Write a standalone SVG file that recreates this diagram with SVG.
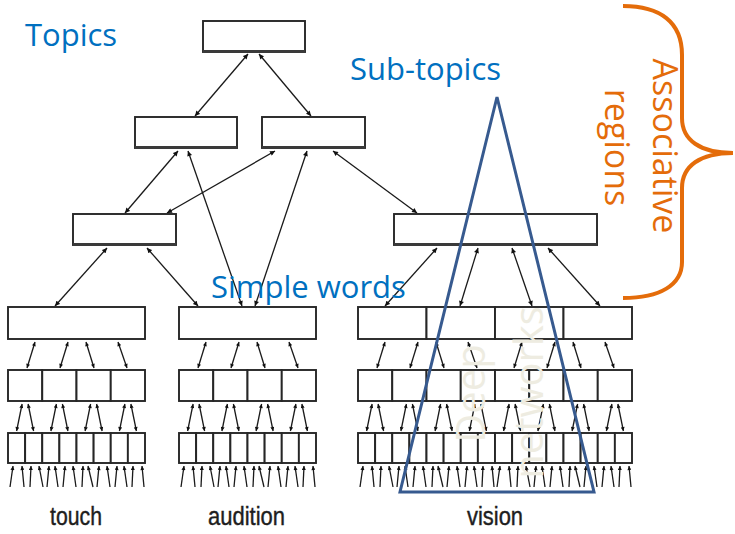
<svg xmlns="http://www.w3.org/2000/svg" xmlns:xlink="http://www.w3.org/1999/xlink" width="735" height="534" viewBox="0 0 735 534">
<style>
.box{fill:#fff;stroke:#262626;stroke-width:1.9}
.shadow{stroke:#3a3a3a;stroke-width:3}
.ln{stroke:#1a1a1a;stroke-width:1.3;fill:none}
.big{marker-start:url(#ah);marker-end:url(#ah)}
.sm{marker-start:url(#as);marker-end:url(#as)}
.up{marker-end:url(#as)}
.blue{font-family:"Open Sans","Noto Sans",sans-serif;font-size:31px;fill:#0070C0}
.orange{font-family:"Open Sans","Noto Sans",sans-serif;font-size:34px;fill:#E46C0A}
.cream{font-family:"Open Sans","Noto Sans",sans-serif;font-size:40px;fill:#EEECE1}
.lab{font-family:"Liberation Sans",Arial,sans-serif;font-size:25px;fill:#1e1e1e;stroke:#1e1e1e;stroke-width:0.4}
</style>
<defs>
<marker id="ah" viewBox="0 0 10 10" refX="10" refY="5" markerWidth="6" markerHeight="5" markerUnits="userSpaceOnUse" orient="auto-start-reverse"><path d="M0,0 L10,5 L0,10 z" fill="#111"/></marker>
<marker id="as" viewBox="0 0 10 10" refX="10" refY="5" markerWidth="5" markerHeight="4" markerUnits="userSpaceOnUse" orient="auto-start-reverse"><path d="M0,0 L10,5 L0,10 z" fill="#111"/></marker>
<g id="col">
<rect class="box" x="0" y="370" width="34.25" height="31"/>
<rect class="box" x="34.25" y="370" width="34.25" height="31"/>
<rect class="box" x="68.5" y="370" width="34.25" height="31"/>
<rect class="box" x="102.75" y="370" width="34.25" height="31"/>
<rect class="box" x="0" y="433" width="17.125" height="30"/>
<rect class="box" x="17.125" y="433" width="17.125" height="30"/>
<rect class="box" x="34.25" y="433" width="17.125" height="30"/>
<rect class="box" x="51.375" y="433" width="17.125" height="30"/>
<rect class="box" x="68.5" y="433" width="17.125" height="30"/>
<rect class="box" x="85.625" y="433" width="17.125" height="30"/>
<rect class="box" x="102.75" y="433" width="17.125" height="30"/>
<rect class="box" x="119.875" y="433" width="17.125" height="30"/>
<g class="ln">
<line class="sm" x1="27" y1="342" x2="19" y2="368"/>
<line class="sm" x1="60" y1="342" x2="52" y2="368"/>
<line class="sm" x1="78" y1="342" x2="86" y2="368"/>
<line class="sm" x1="110" y1="342" x2="119" y2="368"/>
<line class="sm" x1="14.1" y1="404" x2="8.6" y2="431"/>
<line class="sm" x1="20.1" y1="404" x2="25.6" y2="431"/>
<line class="sm" x1="48.4" y1="404" x2="42.9" y2="431"/>
<line class="sm" x1="54.4" y1="404" x2="59.9" y2="431"/>
<line class="sm" x1="82.6" y1="404" x2="77.1" y2="431"/>
<line class="sm" x1="88.6" y1="404" x2="94.1" y2="431"/>
<line class="sm" x1="116.9" y1="404" x2="111.4" y2="431"/>
<line class="sm" x1="122.9" y1="404" x2="128.4" y2="431"/>
<line class="up" x1="2" y1="487" x2="5" y2="466"/>
<line class="up" x1="16" y1="487" x2="14" y2="466"/>
<line class="up" x1="22" y1="487" x2="23" y2="466"/>
<line class="up" x1="35" y1="487" x2="31" y2="466"/>
<line class="up" x1="39" y1="487" x2="41" y2="466"/>
<line class="up" x1="50" y1="487" x2="47" y2="466"/>
<line class="up" x1="55" y1="487" x2="57" y2="466"/>
<line class="up" x1="68" y1="487" x2="65" y2="466"/>
<line class="up" x1="74" y1="487" x2="75" y2="466"/>
<line class="up" x1="85" y1="487" x2="80" y2="466"/>
<line class="up" x1="89" y1="487" x2="91" y2="466"/>
<line class="up" x1="102" y1="487" x2="99" y2="466"/>
<line class="up" x1="107" y1="487" x2="109" y2="466"/>
<line class="up" x1="119" y1="487" x2="116" y2="466"/>
<line class="up" x1="124" y1="487" x2="125" y2="466"/>
<line class="up" x1="136" y1="487" x2="134" y2="466"/>
</g>
</g>
</defs>

<g id="connectors" class="ln">
<line class="big" x1="248" y1="54" x2="195" y2="116"/>
<line class="big" x1="259" y1="54" x2="311" y2="116"/>
<line class="big" x1="178" y1="151" x2="125" y2="213"/>
<line class="big" x1="188" y1="151" x2="242" y2="306"/>
<line class="big" x1="275" y1="151" x2="167" y2="213"/>
<line class="big" x1="307" y1="151" x2="255" y2="306"/>
<line class="big" x1="333" y1="151" x2="417" y2="213"/>
<line class="big" x1="107" y1="248" x2="55" y2="306"/>
<line class="big" x1="147" y1="248" x2="198" y2="306"/>
<line class="big" x1="437" y1="248" x2="385" y2="306"/>
<line class="big" x1="478" y1="248" x2="460" y2="306"/>
<line class="big" x1="512" y1="248" x2="532" y2="306"/>
<line class="big" x1="548" y1="248" x2="600" y2="306"/>
</g>

<g id="topic">
<rect class="box" x="203" y="21" width="102" height="31"/>
<line class="shadow" x1="203" y1="51.5" x2="305" y2="51.5"/>
</g>
<g id="subtopic-left">
<rect class="box" x="135" y="117" width="102" height="31"/>
<line class="shadow" x1="135" y1="147.5" x2="237" y2="147.5"/>
</g>
<g id="subtopic-right">
<rect class="box" x="262" y="117" width="103" height="31"/>
<line class="shadow" x1="262" y1="147.5" x2="365" y2="147.5"/>
</g>
<g id="word-left">
<rect class="box" x="73" y="214" width="103" height="31"/>
<line class="shadow" x1="73" y1="244.5" x2="176" y2="244.5"/>
</g>
<g id="word-right">
<rect class="box" x="394" y="214" width="203" height="31"/>
<line class="shadow" x1="394" y1="244.5" x2="597" y2="244.5"/>
</g>

<g id="touch">
<rect class="box" x="8" y="307" width="137" height="32"/>
<use xlink:href="#col" href="#col" x="8" y="0"/>
<text class="lab" x="50" y="525" textLength="52" lengthAdjust="spacingAndGlyphs">touch</text>
</g>
<g id="audition">
<rect class="box" x="179" y="307" width="137" height="32"/>
<use xlink:href="#col" href="#col" x="179" y="0"/>
<text class="lab" x="208" y="525" textLength="77" lengthAdjust="spacingAndGlyphs">audition</text>
</g>
<g id="vision">
<rect class="box" x="358" y="307" width="68.5" height="32"/>
<rect class="box" x="426.5" y="307" width="68.5" height="32"/>
<rect class="box" x="495" y="307" width="68.5" height="32"/>
<rect class="box" x="563.5" y="307" width="68.5" height="32"/>
<use xlink:href="#col" href="#col" x="358" y="0"/>
<use xlink:href="#col" href="#col" x="495" y="0"/>
<text class="lab" x="467" y="525" textLength="56" lengthAdjust="spacingAndGlyphs">vision</text>
</g>

<g id="deep-networks-triangle">
<polygon points="497,97 400,492 594,492" fill="none" stroke="#375A8F" stroke-width="3" stroke-linejoin="miter"/>
</g>

<g id="associative-brace">
<path d="M623,6 C660,6 682,22 682,55 L682,118 C682,140 700,153 733,153 C700,153 682,166 682,188 L682,262 C682,285 660,298 623,298" fill="none" stroke="#E46C0A" stroke-width="4"/>
</g>

<g id="labels">
<text class="blue" x="25" y="46">Topics</text>
<text class="blue" x="350" y="80">Sub-topics</text>
<text class="blue" x="211" y="298">Simple words</text>
<text class="orange" transform="translate(653,146) rotate(90)" text-anchor="middle">Associative</text>
<text class="orange" transform="translate(605,147.5) rotate(90)" text-anchor="middle">regions</text>
<text class="cream" transform="translate(485,393.5) rotate(-90)" text-anchor="middle">Deep</text>
<text class="cream" transform="translate(543,392.5) rotate(-90)" text-anchor="middle">networks</text>
</g>
</svg>
